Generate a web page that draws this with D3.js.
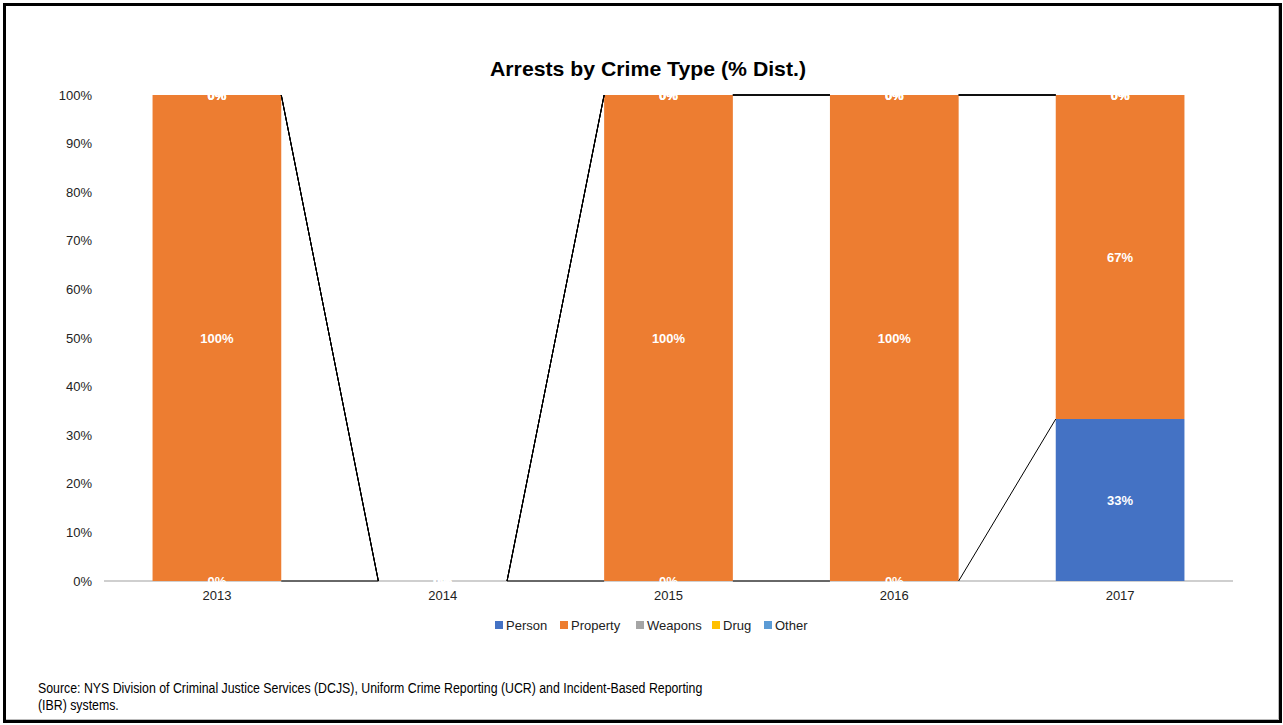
<!DOCTYPE html>
<html>
<head>
<meta charset="utf-8">
<script src="https://cdn.jsdelivr.net/npm/d3@7"></script>
<style>
  html, body { margin: 0; padding: 0; background: #fff; }
  svg { display: block; font-family: Arial, "Liberation Sans", sans-serif; }
</style>
</head>
<body>
<svg id="chart" width="1283" height="725"></svg>
<script>
const years = ["2013", "2014", "2015", "2016", "2017"];
const seriesNames = ["Person", "Property", "Weapons", "Drug", "Other"];
const person   = [0, 0, 0, 0, 33.33];
const property = [100, 0, 100, 100, 66.67];
const weapons  = [0, 0, 0, 0, 0];
const drug     = [0, 0, 0, 0, 0];
const other    = [0, 0, 0, 0, 0];
const colors = ["#4472C4", "#ED7D31", "#A5A5A5", "#FFC000", "#5B9BD5"];
const yTicks = [0, 10, 20, 30, 40, 50, 60, 70, 80, 90, 100];
const titleText = "Arrests by Crime Type (% Dist.)";
const sourceLines = [
  "Source: NYS Division of Criminal Justice Services (DCJS), Uniform Crime Reporting (UCR) and Incident-Based Reporting",
  "(IBR) systems."
];

const seriesValues = [person, property, weapons, drug, other];
const rows = years.map((yr, i) => {
  const r = { year: yr };
  seriesNames.forEach((s, k) => r[s] = seriesValues[k][i]);
  return r;
});

const svg = d3.select("#chart");

// outer frame
svg.append("rect").attr("x", 4.5).attr("y", 4.5).attr("width", 1276).attr("height", 717)
  .attr("fill", "#fff").attr("stroke", "#000").attr("stroke-width", 3);
svg.append("path").attr("d", "M6,719.5H1278.5V6").attr("fill", "none")
  .attr("stroke", "#bbb").attr("stroke-width", 1);

const plotL = 104, plotR = 1233, plotT = 95, plotB = 581;

const x = d3.scaleBand().domain(years).range([plotL, plotR]).paddingInner(0.43).paddingOuter(0.215);
const y = d3.scaleLinear().domain([0, 100]).range([plotB, plotT]);

// title
const title = svg.append("text").attr("x", 648).attr("y", 76).attr("text-anchor", "middle")
  .attr("font-size", 21).attr("font-weight", "bold").attr("fill", "#000").text(titleText);
const tl = title.node().getComputedTextLength();
if (tl > 0) title.attr("textLength", 316).attr("lengthAdjust", "spacingAndGlyphs");

// y axis labels
const yAxis = d3.axisLeft(y).tickValues(yTicks).tickFormat(d => d + "%").tickSize(0).tickPadding(12);
const yg = svg.append("g").attr("transform", `translate(${plotL},0)`).call(yAxis);
yg.select(".domain").remove();
yg.selectAll("text").attr("font-size", 13).attr("fill", "#222").attr("font-family", "Arial, 'Liberation Sans', sans-serif");

// x axis
const xAxis = d3.axisBottom(x).tickSize(0).tickPadding(10);
const xg = svg.append("g").attr("transform", `translate(0,${plotB})`).call(xAxis);
xg.select(".domain").attr("stroke", "#BFBFBF").attr("stroke-width", 1.5).attr("d", `M${plotL},0H${plotR}`);
xg.selectAll("text").attr("font-size", 13).attr("fill", "#222").attr("font-family", "Arial, 'Liberation Sans', sans-serif");

// stack
const stack = d3.stack().keys(seriesNames);
const stacked = stack(rows);

// bars
stacked.forEach((layer, k) => {
  svg.append("g").attr("fill", colors[k]).selectAll("rect").data(layer).join("rect")
    .attr("x", d => x(d.data.year))
    .attr("width", x.bandwidth())
    .attr("y", d => y(d[1]))
    .attr("height", d => y(d[0]) - y(d[1]));
});

// series lines
const lineG = svg.append("g").attr("stroke", "#000").attr("stroke-width", 1).attr("fill", "none");
stacked.forEach(layer => {
  for (let i = 0; i < layer.length - 1; i++) {
    const a = layer[i], b = layer[i + 1];
    lineG.append("line")
      .attr("x1", x(a.data.year) + x.bandwidth()).attr("y1", y(a[1]))
      .attr("x2", x(b.data.year)).attr("y2", y(b[1]));
  }
});

// data labels
const labG = svg.append("g").attr("fill", "#fff").attr("font-size", 13).attr("font-weight", "bold")
  .attr("text-anchor", "middle");
stacked.forEach(layer => {
  layer.forEach(d => {
    const v = d[1] - d[0];
    labG.append("text")
      .attr("x", x(d.data.year) + x.bandwidth() / 2)
      .attr("y", y((d[0] + d[1]) / 2))
      .attr("dy", "0.35em")
      .text(Math.round(v) + "%");
  });
});

// legend
const legendX = [495, 560, 636, 712, 764];
const lg = svg.append("g");
seriesNames.forEach((s, k) => {
  lg.append("rect").attr("x", legendX[k]).attr("y", 621).attr("width", 8).attr("height", 8).attr("fill", colors[k]);
  lg.append("text").attr("x", legendX[k] + 11).attr("y", 630).attr("font-size", 13).attr("fill", "#222").text(s);
});

// source (condensed like the reference)
const sg = svg.append("g");
const srcTexts = sourceLines.map((t, i) =>
  sg.append("text").attr("x", 0).attr("y", 693 + i * 17).attr("font-size", 15).attr("fill", "#000").text(t));
const len1 = srcTexts[0].node().getComputedTextLength();
const sx = len1 > 0 ? 665 / len1 : 1;
sg.attr("transform", `translate(38,0) scale(${sx},1)`);
</script>
</body>
</html>
